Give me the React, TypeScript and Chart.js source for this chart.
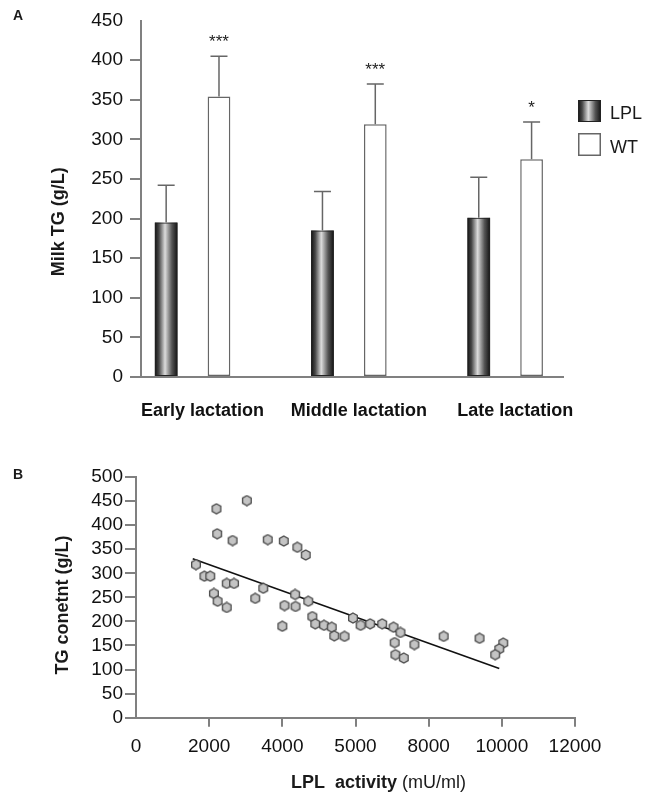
import React, { useEffect, useRef } from "react";
import { Chart, registerables } from "chart.js";

Chart.register(...registerables);

const FONT = '"Liberation Sans", Arial, Helvetica, sans-serif';
const AXIS_GRAY = "#808080";
const TEXT = "#1a1a1a";

// ---------- Panel A data ----------
const categories = ["Early lactation", "Middle lactation", "Late lactation"];
const lplMeans = [195, 185, 201];
const lplSD = [47, 49, 51];
const wtMeans = [354, 319, 275];
const wtSD = [51, 51, 47];
const sigLabels = ["***", "***", "*"];
const yTicksA = [0, 50, 100, 150, 200, 250, 300, 350, 400, 450];

// ---------- Panel B data ----------
const lplActivity = [
  2200, 3030, 2220, 2640, 3600, 4040, 4410, 4640, 1640, 1870, 2030, 2480, 2680, 3480, 2130,
  2230, 2480, 3260, 4350, 4060, 4360, 4710, 4000, 4820, 4900, 5140, 5350, 5420, 5700, 5930,
  6140, 6400, 6730, 7040, 7230, 7070, 7090, 7320, 7610, 8410, 9390, 10040, 9930, 9820,
];
const tgContent = [
  434, 451, 382, 368, 370, 367, 354, 338, 318, 294, 294, 279, 279, 269, 258,
  242, 229, 248, 256, 233, 231, 242, 190, 210, 195, 192, 188, 170, 169, 207,
  192, 195, 195, 188, 177, 156, 131, 124, 152, 169, 165, 155, 143, 131,
];
const trendX = [1550, 9930];
const trendY = [330, 102];
const xTickLabelsB = ["0", "2000", "4000", "5000", "8000", "10000", "12000"];

function lplGradient(ctx: CanvasRenderingContext2D, left: number, width: number) {
  const g = ctx.createLinearGradient(left, 0, left + width, 0);
  g.addColorStop(0, "#111111");
  g.addColorStop(0.18, "#474747");
  g.addColorStop(0.45, "#dcdcdc");
  g.addColorStop(0.75, "#555555");
  g.addColorStop(1, "#111111");
  return g;
}

function makeHexagon(): HTMLCanvasElement {
  const c = document.createElement("canvas");
  c.width = 12;
  c.height = 12;
  const g = c.getContext("2d")!;
  g.beginPath();
  for (let k = 0; k < 6; k++) {
    const a = -Math.PI / 2 + (k * Math.PI) / 3;
    const px = 6 + 5 * Math.cos(a);
    const py = 6 + 5 * Math.sin(a);
    if (k === 0) g.moveTo(px, py);
    else g.lineTo(px, py);
  }
  g.closePath();
  g.fillStyle = "#c4c4c4";
  g.fill();
  g.lineWidth = 1.3;
  g.strokeStyle = "#4a4a4a";
  g.stroke();
  return c;
}

const barPanelPlugin = {
  id: "barPanel",
  beforeDatasetDraw(chart: any, args: any) {
    if (args.index !== 0) return;
    const ctx: CanvasRenderingContext2D = chart.ctx;
    const meta = chart.getDatasetMeta(0);
    meta.data.forEach((el: any) => {
      const { x, y, base, width } = el.getProps(["x", "y", "base", "width"], true);
      const left = x - width / 2;
      ctx.save();
      ctx.fillStyle = lplGradient(ctx, left, width);
      ctx.fillRect(left, y, width, base - y);
      ctx.restore();
    });
  },
  afterDatasetsDraw(chart: any) {
    const ctx: CanvasRenderingContext2D = chart.ctx;
    const yScale = chart.scales.y;
    const sets: [number[], number[]][] = [
      [lplMeans, lplSD],
      [wtMeans, wtSD],
    ];
    sets.forEach(([means, sds], di) => {
      const meta = chart.getDatasetMeta(di);
      meta.data.forEach((el: any, i: number) => {
        const { x, y } = el.getProps(["x", "y"], true);
        const top = yScale.getPixelForValue(means[i] + sds[i]);
        ctx.save();
        ctx.strokeStyle = "#666666";
        ctx.lineWidth = 1.5;
        ctx.beginPath();
        ctx.moveTo(x, y);
        ctx.lineTo(x, top);
        ctx.moveTo(x - 8.5, top);
        ctx.lineTo(x + 8.5, top);
        ctx.stroke();
        if (di === 1) {
          ctx.fillStyle = "#222222";
          ctx.font = `17px ${FONT}`;
          ctx.textAlign = "center";
          ctx.textBaseline = "alphabetic";
          ctx.fillText(sigLabels[i], x, top - 9);
        }
        ctx.restore();
      });
    });
  },
  afterDraw(chart: any) {
    const ctx: CanvasRenderingContext2D = chart.ctx;
    const ca = chart.chartArea;
    ctx.save();
    // panel letter
    ctx.fillStyle = TEXT;
    ctx.font = `bold 14px ${FONT}`;
    ctx.textAlign = "left";
    ctx.textBaseline = "alphabetic";
    ctx.fillText("A", 13, 20);
    // y title
    ctx.save();
    ctx.translate(59.5, 221.7);
    ctx.rotate(-Math.PI / 2);
    ctx.font = `bold 18px ${FONT}`;
    ctx.textAlign = "center";
    ctx.textBaseline = "middle";
    ctx.fillText("Milk TG (g/L)", 0, 0);
    ctx.restore();
    // legend
    const bx = ca.right + 15;
    ctx.fillStyle = lplGradient(ctx, bx, 23);
    ctx.fillRect(bx, 100, 23, 22);
    ctx.strokeStyle = "#222222";
    ctx.lineWidth = 1;
    ctx.strokeRect(bx + 0.5, 100.5, 22, 21);
    ctx.fillStyle = "#ffffff";
    ctx.fillRect(bx, 133, 23, 23);
    ctx.strokeStyle = "#666666";
    ctx.lineWidth = 1.5;
    ctx.strokeRect(bx + 0.75, 133.75, 21.5, 21.5);
    ctx.fillStyle = TEXT;
    ctx.font = `18px ${FONT}`;
    ctx.textAlign = "left";
    ctx.textBaseline = "alphabetic";
    ctx.fillText("LPL", bx + 32, 119);
    ctx.fillText("WT", bx + 32, 153);
    ctx.restore();
  },
};

const scatterPanelPlugin = {
  id: "scatterPanel",
  afterDraw(chart: any) {
    const ctx: CanvasRenderingContext2D = chart.ctx;
    ctx.save();
    ctx.fillStyle = TEXT;
    ctx.font = `bold 14px ${FONT}`;
    ctx.textAlign = "left";
    ctx.textBaseline = "alphabetic";
    ctx.fillText("B", 13, 59);
    // y title
    ctx.save();
    ctx.translate(63.5, 185);
    ctx.rotate(-Math.PI / 2);
    ctx.font = `bold 18px ${FONT}`;
    ctx.textAlign = "center";
    ctx.textBaseline = "middle";
    ctx.fillText("TG conetnt (g/L)", 0, 0);
    ctx.restore();
    // x title with mixed weights
    const boldPart = "LPL  activity";
    const regPart = " (mU/ml)";
    ctx.font = `bold 18px ${FONT}`;
    const wb = ctx.measureText(boldPart).width;
    ctx.font = `18px ${FONT}`;
    const wr = ctx.measureText(regPart).width;
    const start = 378.5 - (wb + wr) / 2;
    ctx.textBaseline = "middle";
    ctx.font = `bold 18px ${FONT}`;
    ctx.fillText(boldPart, start, 362.7);
    ctx.font = `18px ${FONT}`;
    ctx.fillText(regPart, start + wb, 362.7);
    ctx.restore();
  },
};

function BarPanel() {
  const ref = useRef<HTMLCanvasElement | null>(null);
  useEffect(() => {
    if (!ref.current) return;
    const chart = new Chart(ref.current, {
      type: "bar",
      data: {
        datasets: [
          {
            label: "LPL",
            data: lplMeans.map((v, i) => ({ x: i, y: v })),
            backgroundColor: "rgba(0,0,0,0)",
            borderColor: "#222222",
            borderWidth: 1,
            borderSkipped: false,
            categoryPercentage: 0.676,
            barPercentage: 0.43,
          },
          {
            label: "WT",
            data: wtMeans.map((v, i) => ({ x: i, y: v })),
            backgroundColor: "#ffffff",
            borderColor: "#666666",
            borderWidth: 1.5,
            borderSkipped: false,
            categoryPercentage: 0.676,
            barPercentage: 0.43,
          },
        ],
      } as any,
      options: {
        animation: false,
        responsive: false,
        layout: { padding: { left: 0, right: 89, top: 20.5, bottom: 0 } },
        plugins: { legend: { display: false }, tooltip: { enabled: false } },
        scales: {
          x: {
            type: "linear",
            min: -0.33,
            max: 2.37,
            offset: false,
            afterBuildTicks: (axis: any) => {
              axis.ticks = categories.map((_, i) => ({ value: i }));
            },
            afterFit: (scale: any) => {
              scale.height = 43;
            },
            grid: { display: false },
            border: { display: true, color: AXIS_GRAY, width: 2 },
            ticks: {
              autoSkip: false,
              maxRotation: 0,
              minRotation: 0,
              padding: 15,
              labelOffset: 10,
              color: "#111111",
              font: { family: FONT, size: 18, weight: "bold" },
              callback: (v: any) => categories[v as number] ?? "",
            },
          },
          y: {
            type: "linear",
            min: 0,
            max: 450,
            afterBuildTicks: (axis: any) => {
              axis.ticks = yTicksA.map((v) => ({ value: v }));
            },
            afterFit: (scale: any) => {
              scale.width = 141;
            },
            grid: {
              display: true,
              drawOnChartArea: false,
              drawTicks: true,
              tickLength: 11,
              lineWidth: 2,
              color: AXIS_GRAY,
              tickColor: (c: any) => (c.tick && c.tick.value === 450 ? "rgba(0,0,0,0)" : AXIS_GRAY),
            },
            border: { display: true, color: AXIS_GRAY, width: 2 },
            ticks: {
              autoSkip: false,
              padding: 7,
              color: "#111111",
              font: { family: FONT, size: 19, lineHeight: 1 },
            },
          },
        },
      } as any,
      plugins: [barPanelPlugin],
    });
    return () => chart.destroy();
  }, []);
  return (
    <canvas
      ref={ref}
      width={652}
      height={420}
      style={{ position: "absolute", left: 0, top: 0, width: 652, height: 420, display: "block" }}
    />
  );
}

function ScatterPanel() {
  const ref = useRef<HTMLCanvasElement | null>(null);
  useEffect(() => {
    if (!ref.current) return;
    const hex = makeHexagon();
    const chart = new Chart(ref.current, {
      type: "scatter",
      data: {
        datasets: [
          {
            label: "samples",
            data: lplActivity.map((x, i) => ({ x, y: tgContent[i] })),
            pointStyle: hex,
            pointRadius: 6,
            showLine: false,
          },
          {
            label: "trend",
            data: trendX.map((x, i) => ({ x, y: trendY[i] })),
            showLine: true,
            borderColor: "#111111",
            borderWidth: 1.6,
            pointRadius: 0,
            fill: false,
          },
        ],
      } as any,
      options: {
        animation: false,
        responsive: false,
        layout: { padding: { left: 0, right: 77, top: 57, bottom: 0 } },
        plugins: { legend: { display: false }, tooltip: { enabled: false } },
        scales: {
          x: {
            type: "linear",
            min: 0,
            max: 12000,
            afterFit: (scale: any) => {
              scale.height = 77.3;
            },
            grid: {
              display: true,
              drawOnChartArea: false,
              drawTicks: true,
              tickLength: 9,
              lineWidth: 2,
              color: AXIS_GRAY,
              tickColor: (c: any) => (c.tick && c.tick.value === 0 ? "rgba(0,0,0,0)" : AXIS_GRAY),
            },
            border: { display: true, color: AXIS_GRAY, width: 2 },
            ticks: {
              stepSize: 2000,
              autoSkip: false,
              maxRotation: 0,
              minRotation: 0,
              padding: 8.6,
              color: "#111111",
              font: { family: FONT, size: 19 },
              callback: (_v: any, i: number) => xTickLabelsB[i] ?? "",
            },
          },
          y: {
            type: "linear",
            min: 0,
            max: 500,
            afterFit: (scale: any) => {
              scale.width = 136;
            },
            grid: {
              display: true,
              drawOnChartArea: false,
              drawTicks: true,
              tickLength: 11,
              lineWidth: 2,
              color: AXIS_GRAY,
            },
            border: { display: true, color: AXIS_GRAY, width: 2 },
            ticks: {
              stepSize: 50,
              autoSkip: false,
              padding: 2,
              color: "#111111",
              font: { family: FONT, size: 19, lineHeight: 1 },
            },
          },
        },
      } as any,
      plugins: [scatterPanelPlugin],
    });
    return () => chart.destroy();
  }, []);
  return (
    <canvas
      ref={ref}
      width={652}
      height={375}
      style={{ position: "absolute", left: 0, top: 420, width: 652, height: 375, display: "block" }}
    />
  );
}

export default function App() {
  return (
    <div
      style={{
        position: "absolute",
        left: 0,
        top: 0,
        width: 652,
        height: 795,
        background: "#ffffff",
        overflow: "hidden",
      }}
    >
      <BarPanel />
      <ScatterPanel />
    </div>
  );
}
